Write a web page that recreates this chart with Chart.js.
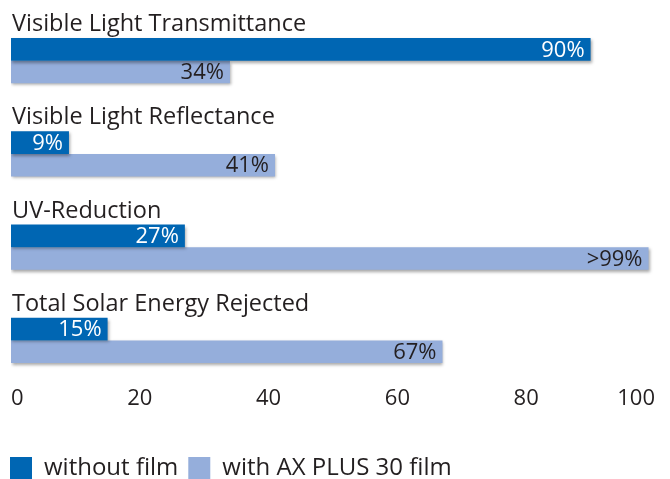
<!DOCTYPE html>
<html>
<head>
<meta charset="utf-8">
<script src="https://cdn.jsdelivr.net/npm/chart.js@4"></script>
<style>
  html, body { margin: 0; padding: 0; background: #fff; }
  #wrap { width: 670px; height: 479px; }
</style>
</head>
<body>
<div id="wrap"><canvas id="grafico" width="670" height="479"></canvas></div>
<script>
// Dados do gráfico
const categorias = [
    'Visible Light Transmittance',
    'Visible Light Reflectance',
    'UV-Reduction',
    'Total Solar Energy Rejected'
];
const semFilme = [90, 9, 27, 15];
const comFilme = [34, 41, 99, 67];
const rotulosSem = ['90%', '9%', '27%', '15%'];
const rotulosCom = ['34%', '41%', '>99%', '67%'];
const ticksX = [0, 20, 40, 60, 80, 100];

const FONTE = "'Open Sans', sans-serif";
const COR_TEXTO = '#231f20';

// títulos das categorias + valores dentro das barras
const rotulosPlugin = {
    id: 'rotulos',
    afterLayout(chart) {
        // legenda encostada na margem esquerda
        if (chart.legend) {
            chart.legend.left -= 11;
            chart.legend.right -= 11;
        }
    },
    beforeDatasetsDraw(chart) {
        const ctx = chart.ctx;
        ctx.save();
        ctx.shadowColor = 'rgba(0,0,0,0.35)';
        ctx.shadowBlur = 3;
        ctx.shadowOffsetX = 1;
        ctx.shadowOffsetY = 2;
    },
    afterDatasetsDraw(chart) {
        const ctx = chart.ctx;
        ctx.restore();
        ctx.save();
        ctx.font = '23.5px ' + FONTE;
        const metaSem = chart.getDatasetMeta(0);
        const metaCom = chart.getDatasetMeta(1);
        // títulos
        ctx.fillStyle = COR_TEXTO;
        ctx.textAlign = 'left';
        ctx.textBaseline = 'alphabetic';
        metaSem.data.forEach((bar, i) => {
            const topo = bar.y - bar.height / 2;
            ctx.fillText(categorias[i], chart.chartArea.left + 1, topo - 7);
        });
        // valores
        ctx.textAlign = 'right';
        ctx.textBaseline = 'middle';
        ctx.font = '22px ' + FONTE;
        metaSem.data.forEach((bar, i) => {
            ctx.fillStyle = '#ffffff';
            ctx.fillText(rotulosSem[i], bar.x - 6, bar.y + 1);
        });
        metaCom.data.forEach((bar, i) => {
            ctx.fillStyle = COR_TEXTO;
            ctx.fillText(rotulosCom[i], bar.x - 6, bar.y + 1);
        });
        ctx.restore();
    }
};

new Chart(document.getElementById('grafico'), {
    type: 'bar',
    data: {
        labels: categorias,
        datasets: [{
            label: 'without film',
            data: semFilme,
            backgroundColor: '#0066b3',
            borderWidth: 0
        }, {
            label: 'with AX PLUS 30 film',
            data: comFilme,
            backgroundColor: '#95aedb',
            borderWidth: 0
        }]
    },
    options: {
        indexAxis: 'y',
        responsive: false,
        animation: false,
        layout: {
            padding: { left: 11, right: 15, top: 14, bottom: -11 }
        },
        datasets: {
            bar: {
                categoryPercentage: 0.485,
                barPercentage: 1
            }
        },
        scales: {
            x: {
                min: 0,
                max: 100,
                afterBuildTicks: (scale) => {
                    scale.ticks = ticksX.map(v => ({ value: v }));
                },
                afterFit: (scale) => { scale.height = 59; },
                grid: { display: false },
                border: { display: false },
                ticks: {
                    align: 'inner',
                    padding: -9,
                    color: COR_TEXTO,
                    font: { size: 22, family: FONTE }
                }
            },
            y: {
                display: false
            }
        },
        plugins: {
            legend: {
                position: 'bottom',
                align: 'start',
                labels: {
                    boxWidth: 22,
                    boxHeight: 22,
                    padding: 10,
                    color: COR_TEXTO,
                    font: { size: 24, family: FONTE }
                }
            },
            tooltip: { enabled: false }
        }
    },
    plugins: [rotulosPlugin]
});
</script>
</body>
</html>
